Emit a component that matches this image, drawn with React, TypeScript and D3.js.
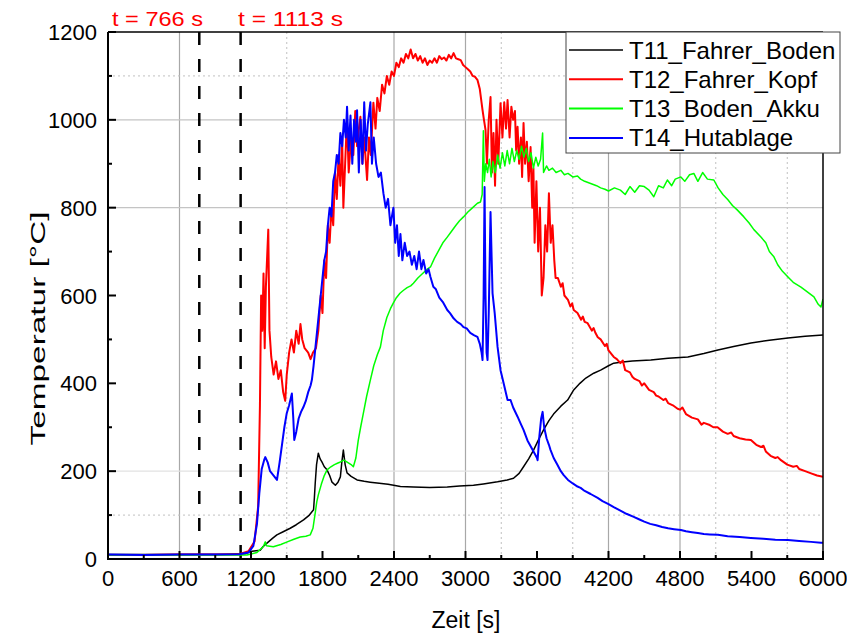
import React from "react";
import * as d3 from "d3";

type P = [number, number];

const seriesNames = ["T11_Fahrer_Boden", "T12_Fahrer_Kopf", "T13_Boden_Akku", "T14_Hutablage"];
const seriesColors = ["#000000", "#ff0000", "#00ff00", "#0000ff"];

const t11: P[] = [[0,10],[600,10],[900,10],[1150,12],[1193,17],[1277,20],[1300,28],[1334,36],[1380,47],[1417,55],[1470,62],[1529,70],[1580,78],[1641,89],[1690,100],[1725,112],[1732,140],[1739,173],[1750,215],[1765,241],[1780,228],[1795,221],[1815,210],[1838,203],[1860,190],[1880,175],[1908,168],[1930,175],[1950,187],[1962,220],[1975,248],[1990,215],[2006,196],[2040,188],[2090,180],[2150,177],[2200,175],[2258,173],[2350,170],[2454,165],[2563,164],[2700,163],[2847,164],[2950,166],[3067,168],[3150,171],[3269,176],[3350,180],[3403,184],[3450,195],[3487,210],[3530,228],[3571,248],[3610,270],[3655,294],[3700,315],[3739,330],[3800,348],[3857,362],[3908,385],[3960,400],[4010,412],[4076,423],[4134,430],[4200,440],[4244,446],[4300,448],[4400,451],[4555,453],[4700,457],[4866,460],[5000,468],[5118,476],[5250,484],[5395,492],[5550,498],[5706,503],[5850,507],[6000,510]];

const t12: P[] = [[0,9],[300,9],[600,10],[900,10],[1100,11],[1180,18],[1230,40],[1260,120],[1275,350],[1285,600],[1295,520],[1305,650],[1315,480],[1325,620],[1345,750],[1355,520],[1370,460],[1390,420],[1410,450],[1430,410],[1450,430],[1470,380],[1487,360],[1500,420],[1520,470],[1540,500],[1560,470],[1580,520],[1600,490],[1615,535],[1630,500],[1650,480],[1680,470],[1700,455],[1720,470],[1745,480],[1765,520],[1785,600],[1800,560],[1815,680],[1830,640],[1845,760],[1860,720],[1875,800],[1890,760],[1905,880],[1920,820],[1935,920],[1950,850],[1965,960],[1975,800],[1990,900],[2005,1000],[2020,880],[2040,960],[2059,920],[2075,1020],[2090,940],[2105,980],[2118,1007],[2135,900],[2150,960],[2174,863],[2190,960],[2205,920],[2227,1039],[2245,980],[2260,1050],[2280,1020],[2300,1080],[2320,1060],[2340,1100],[2360,1080],[2380,1110],[2400,1100],[2420,1130],[2440,1120],[2460,1140],[2480,1130],[2500,1150],[2520,1140],[2540,1160],[2560,1140],[2580,1150],[2600,1135],[2620,1145],[2640,1130],[2660,1140],[2680,1125],[2700,1135],[2720,1130],[2740,1140],[2760,1130],[2780,1145],[2800,1138],[2820,1142],[2840,1135],[2860,1148],[2880,1140],[2900,1152],[2920,1140],[2940,1138],[2960,1136],[2980,1125],[3000,1120],[3020,1115],[3040,1110],[3060,1100],[3080,1098],[3100,1091],[3120,1070],[3143,1022],[3155,1000],[3168,977],[3180,900],[3195,1000],[3210,1052],[3222,880],[3235,970],[3248,850],[3260,1000],[3275,900],[3294,1038],[3310,960],[3325,1040],[3340,980],[3353,1045],[3370,960],[3385,1030],[3400,1000],[3415,1020],[3425,930],[3437,984],[3450,900],[3465,960],[3475,870],[3487,993],[3500,900],[3515,950],[3530,860],[3546,938],[3560,800],[3570,890],[3580,720],[3595,860],[3610,700],[3625,800],[3640,600],[3655,640],[3670,760],[3685,700],[3700,833],[3715,720],[3730,760],[3745,680],[3756,640],[3775,640],[3800,620],[3815,628],[3830,600],[3860,590],[3880,575],[3895,582],[3908,567],[3940,560],[3970,545],[3985,552],[4000,540],[4025,537],[4060,520],[4075,526],[4090,515],[4110,505],[4134,500],[4170,485],[4185,490],[4200,475],[4244,460],[4270,455],[4300,446],[4320,452],[4340,430],[4380,425],[4400,415],[4420,410],[4460,405],[4480,395],[4500,400],[4540,385],[4580,380],[4600,372],[4620,370],[4660,362],[4680,365],[4700,355],[4740,350],[4780,342],[4800,340],[4820,345],[4850,330],[4900,322],[4950,318],[4980,306],[5000,310],[5050,305],[5080,300],[5115,300],[5160,290],[5200,285],[5230,288],[5250,280],[5300,275],[5350,272],[5395,271],[5440,260],[5480,255],[5500,258],[5520,245],[5560,235],[5600,230],[5620,232],[5647,225],[5700,215],[5750,210],[5780,212],[5800,205],[5850,200],[5900,195],[5950,190],[6000,187]];

const t13: P[] = [[0,9],[600,9],[900,9],[1166,9],[1250,15],[1303,28],[1320,39],[1330,30],[1387,28],[1450,33],[1504,39],[1560,45],[1613,50],[1660,52],[1697,55],[1720,70],[1739,105],[1752,130],[1765,146],[1790,170],[1815,190],[1838,203],[1870,210],[1900,215],[1925,218],[1950,221],[1980,225],[2017,219],[2040,215],[2059,210],[2080,230],[2100,270],[2120,300],[2143,332],[2170,370],[2202,408],[2230,440],[2260,465],[2286,483],[2310,520],[2340,550],[2370,570],[2395,583],[2420,595],[2450,605],[2480,612],[2510,618],[2540,622],[2563,628],[2600,640],[2640,650],[2680,660],[2706,665],[2740,685],[2780,705],[2810,720],[2847,733],[2880,745],[2920,760],[2950,770],[2983,779],[3020,790],[3060,800],[3100,810],[3126,813],[3140,830],[3150,975],[3158,860],[3170,900],[3185,880],[3200,910],[3215,870],[3230,905],[3250,880],[3270,920],[3290,890],[3310,925],[3330,895],[3350,930],[3370,900],[3390,935],[3410,905],[3430,930],[3450,910],[3470,940],[3490,915],[3510,935],[3530,905],[3550,925],[3570,890],[3590,915],[3610,895],[3630,910],[3647,970],[3655,880],[3680,895],[3700,885],[3730,890],[3760,880],[3800,885],[3830,875],[3860,878],[3900,870],[3940,872],[3966,865],[4000,860],[4050,855],[4100,850],[4134,845],[4170,842],[4200,838],[4250,845],[4300,840],[4340,830],[4380,848],[4420,835],[4460,850],[4500,848],[4540,840],[4580,825],[4620,850],[4660,845],[4694,863],[4730,850],[4760,865],[4807,870],[4840,860],[4880,875],[4916,878],[4950,860],[4990,880],[5030,865],[5084,863],[5120,845],[5160,830],[5202,818],[5240,805],[5280,795],[5336,779],[5380,765],[5420,750],[5479,733],[5520,720],[5550,700],[5588,688],[5620,670],[5660,655],[5706,642],[5750,630],[5815,619],[5860,610],[5924,597],[5960,580],[5983,574],[6000,592]];

const t14: P[] = [[0,10],[300,9],[600,10],[900,10],[1100,11],[1180,15],[1220,30],[1250,80],[1270,150],[1290,205],[1310,225],[1320,232],[1340,220],[1360,200],[1390,190],[1418,180],[1440,220],[1460,260],[1480,300],[1500,332],[1520,350],[1543,377],[1555,320],[1563,271],[1580,290],[1600,320],[1620,335],[1640,346],[1660,360],[1680,380],[1700,395],[1711,408],[1725,440],[1740,480],[1755,520],[1770,560],[1785,600],[1800,640],[1815,680],[1830,700],[1845,760],[1860,800],[1875,780],[1890,860],[1905,880],[1920,920],[1935,900],[1950,970],[1965,940],[1980,1000],[1995,960],[2006,1030],[2020,930],[2035,1010],[2050,900],[2065,1000],[2080,950],[2090,1022],[2105,880],[2120,1000],[2135,900],[2150,1040],[2165,930],[2180,990],[2202,1040],[2215,900],[2230,960],[2250,900],[2270,870],[2290,880],[2311,833],[2330,800],[2350,820],[2370,760],[2395,800],[2410,720],[2425,760],[2440,690],[2454,740],[2470,680],[2490,720],[2510,690],[2530,700],[2550,670],[2570,690],[2590,660],[2610,700],[2630,660],[2647,681],[2670,650],[2690,660],[2706,642],[2730,620],[2750,615],[2780,595],[2810,585],[2847,567],[2870,560],[2900,548],[2930,540],[2960,535],[2983,528],[3010,525],[3040,515],[3070,510],[3100,506],[3120,490],[3135,470],[3143,453],[3152,600],[3160,847],[3168,600],[3177,470],[3185,453],[3195,560],[3210,790],[3218,700],[3227,605],[3245,560],[3269,483],[3294,430],[3320,400],[3353,362],[3378,362],[3400,345],[3437,324],[3460,310],[3487,294],[3520,270],[3550,255],[3580,240],[3600,230],[3605,225],[3620,280],[3635,320],[3647,335],[3660,300],[3680,275],[3700,260],[3714,248],[3740,230],[3770,215],[3800,200],[3824,191],[3860,180],[3900,172],[3940,165],[3966,162],[4000,155],[4050,148],[4109,139],[4150,132],[4200,125],[4244,118],[4300,110],[4350,103],[4412,96],[4460,90],[4500,85],[4550,80],[4600,77],[4650,73],[4700,70],[4750,68],[4807,66],[4850,63],[4900,61],[4950,59],[5000,57],[5050,56],[5118,55],[5200,52],[5300,50],[5395,48],[5500,46],[5600,44],[5706,43],[5800,41],[5900,39],[5983,37],[6000,37]];

const seriesData: P[][] = [t11, t12, t13, t14];
const seriesWidths = [1.5, 2, 1.5, 2];

const xTicks = [0, 600, 1200, 1800, 2400, 3000, 3600, 4200, 4800, 5400, 6000];
const xMinorTicks = [300, 900, 1500, 2100, 2700, 3300, 3900, 4500, 5100, 5700];
const yTicks = [0, 200, 400, 600, 800, 1000, 1200];
const yMinorTicks = [100, 300, 500, 700, 900, 1100];
const xGridSolid = [600, 2400, 3000, 4200, 4800];
const xGridDotted = [1500, 3300, 3900, 5100, 5700];
const yGridSolid = [200, 800, 1000];
const yGridDotted = [100, 1100];
const markerTimes = [766, 1113];
const markerLabels = ["t = 766 s", "t = 1113 s"];

const font = "'Liberation Sans', Arial, sans-serif";

export default function App() {
  const left = 108, right = 823, top = 32, bottom = 559;
  const x = d3.scaleLinear().domain([0, 6000]).range([left, right]);
  const y = d3.scaleLinear().domain([0, 1200]).range([bottom, top]);
  const line = d3.line<P>().x(d => x(d[0])).y(d => y(d[1]));

  return (
    <svg width={847} height={633} style={{ position: "absolute", left: 0, top: 0, background: "#fff" }} fontFamily={font}>
      <defs>
        <clipPath id="plot">
          <rect x={left} y={top} width={right - left} height={bottom - top} />
        </clipPath>
      </defs>
      {xGridSolid.map(v => (
        <line key={"gx" + v} x1={x(v)} x2={x(v)} y1={top} y2={bottom} stroke="#a8a8a8" strokeWidth={1.2} />
      ))}
      {xGridDotted.map(v => (
        <line key={"gxd" + v} x1={x(v)} x2={x(v)} y1={top} y2={bottom} stroke="#c0c0c0" strokeWidth={1} strokeDasharray="2,3" />
      ))}
      {yGridSolid.map(v => (
        <line key={"gy" + v} x1={left} x2={right} y1={y(v)} y2={y(v)} stroke={v === 200 ? "#e2e2e2" : "#c4c4c4"} strokeWidth={1.2} />
      ))}
      {yGridDotted.map(v => (
        <line key={"gyd" + v} x1={left} x2={right} y1={y(v)} y2={y(v)} stroke="#c0c0c0" strokeWidth={1} strokeDasharray="2,3" />
      ))}
      {markerTimes.map(v => (
        <line key={"m" + v} x1={x(v)} x2={x(v)} y1={top} y2={bottom} stroke="#000" strokeWidth={2.5} strokeDasharray="13,14" />
      ))}
      <g clipPath="url(#plot)">
        {seriesData.map((d, i) => (
          <path key={seriesNames[i]} d={line(d) || ""} fill="none" stroke={seriesColors[i]} strokeWidth={seriesWidths[i]} strokeLinejoin="round" />
        ))}
      </g>
      <line x1={left} x2={right} y1={top} y2={top} stroke="#000" strokeWidth={1.5} />
      <line x1={right} x2={right} y1={top} y2={bottom} stroke="#000" strokeWidth={1.5} />
      <line x1={left} x2={left} y1={top} y2={bottom + 1} stroke="#000" strokeWidth={2} />
      <line x1={left - 1} x2={right + 1} y1={bottom} y2={bottom} stroke="#000" strokeWidth={2} />
      {xTicks.map(v => (
        <g key={"xt" + v}>
          <line x1={x(v)} x2={x(v)} y1={bottom} y2={bottom - 8} stroke="#000" strokeWidth={2} />
          <text x={x(v)} y={586} fontSize={22} textAnchor="middle" fill="#000">{v}</text>
        </g>
      ))}
      {xMinorTicks.map(v => (
        <line key={"xm" + v} x1={x(v)} x2={x(v)} y1={bottom} y2={bottom - 4} stroke="#000" strokeWidth={2} />
      ))}
      {yTicks.map(v => (
        <g key={"yt" + v}>
          <line x1={left} x2={left + 8} y1={y(v)} y2={y(v)} stroke="#000" strokeWidth={2} />
          <text x={97} y={y(v) + 8} fontSize={22} textAnchor="end" fill="#000">{v}</text>
        </g>
      ))}
      {yMinorTicks.map(v => (
        <line key={"ym" + v} x1={left} x2={left + 4} y1={y(v)} y2={y(v)} stroke="#000" strokeWidth={2} />
      ))}
      <text x={466} y={628} fontSize={23} textAnchor="middle" fill="#000">Zeit [s]</text>
      <text transform={`translate(45, ${(210 + 447) / 2}) rotate(-90)`} fontSize={21} textAnchor="middle" fill="#000" textLength={234} lengthAdjust="spacingAndGlyphs">Temperatur [°C]</text>
      <text x={112} y={26} fontSize={21} textAnchor="start" fill="#ff0000" textLength={91} lengthAdjust="spacingAndGlyphs">{markerLabels[0]}</text>
      <text x={238} y={26} fontSize={21} textAnchor="start" fill="#ff0000" textLength={105} lengthAdjust="spacingAndGlyphs">{markerLabels[1]}</text>
      <rect x={566} y={32} width={274} height={121} fill="#fff" stroke="#444" strokeWidth={1} />
      {seriesNames.map((n, i) => (
        <g key={"lg" + n}>
          <line x1={569} x2={623} y1={50 + i * 29.3} y2={50 + i * 29.3} stroke={seriesColors[i]} strokeWidth={i === 0 ? 1.5 : 2} />
          <text x={629} y={50 + i * 29.3 + 8.5} fontSize={24} fill="#000">{n}</text>
        </g>
      ))}
    </svg>
  );
}
